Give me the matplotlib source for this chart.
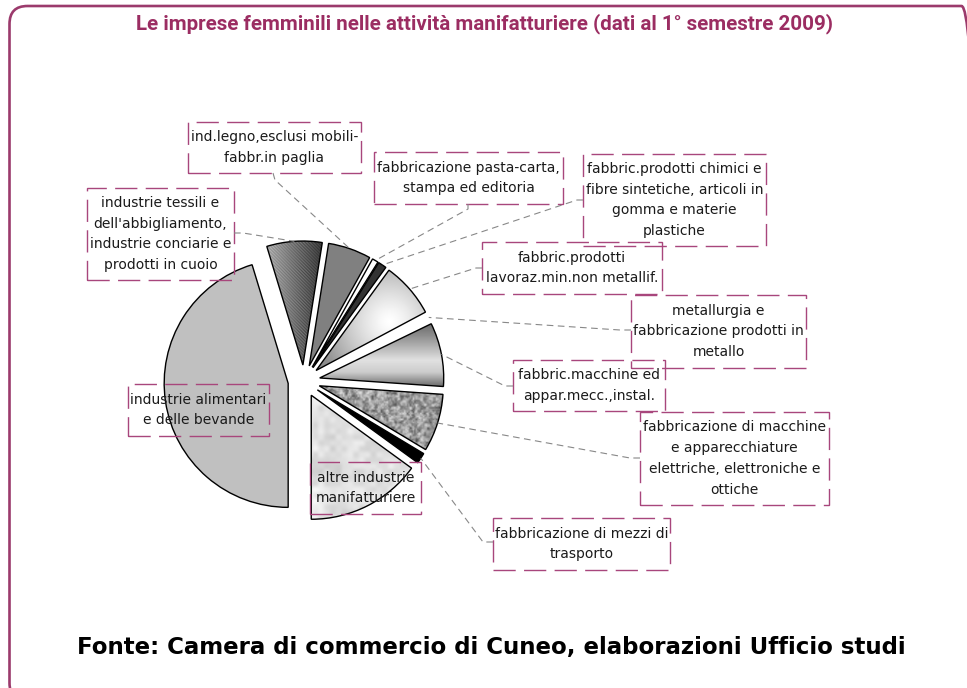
import numpy as np
import matplotlib
matplotlib.use("Agg")
import matplotlib.pyplot as plt
from matplotlib.patches import Rectangle, FancyBboxPatch

# settori manifatturieri (ordine orario partendo dal basso)
categorie = [
    "industrie alimentari\ne delle bevande",
    "industrie tessili e\ndell'abbigliamento,\nindustrie conciarie e\nprodotti in cuoio",
    "ind.legno,esclusi mobili-\nfabbr.in paglia",
    "fabbricazione pasta-carta,\nstampa ed editoria",
    "fabbric.prodotti chimici e\nfibre sintetiche, articoli in\ngomma e materie\nplastiche",
    "fabbric.prodotti\nlavoraz.min.non metallif.",
    "metallurgia e\nfabbricazione prodotti in\nmetallo",
    "fabbric.macchine ed\nappar.mecc.,instal.",
    "fabbricazione di macchine\ne apparecchiature\nelettriche, elettroniche e\nottiche",
    "fabbricazione di mezzi di\ntrasporto",
    "altre industrie\nmanifatturiere",
]
# quote % stimate dal grafico
quote = [45.3, 7.2, 5.6, 0.8, 1.1, 7.2, 0.6, 8.3, 7.5, 1.4, 15.0]

titolo = "Le imprese femminili nelle attività manifatturiere (dati al 1° semestre 2009)"
fonte = "Fonte: Camera di commercio di Cuneo, elaborazioni Ufficio studi"

W, H = 967, 688
VIOLA = "#9b2d62"
BORDO = "#a8467c"

fig = plt.figure(figsize=(W / 100, H / 100), dpi=100)
ax = fig.add_axes([0, 0, 1, 1])

# torta esplosa, coordinate in pixel (y verso l'alto)
wedges, _ = ax.pie(quote, radius=124, center=(304, H - 381), startangle=-90,
                   counterclock=False, explode=[16] * len(quote),
                   wedgeprops=dict(edgecolor="black", linewidth=1))


def rumore(n, cella, seme):
    # value noise deterministico per le texture
    m = int(n / cella) + 3
    jj, ii = np.meshgrid(np.arange(m), np.arange(m))
    h = np.sin(ii * 12.9898 + jj * 78.233 + seme) * 43758.5453
    h = h - np.floor(h)
    t = np.arange(n) / cella
    i0 = np.floor(t).astype(int)
    f = t - i0
    f = f * f * (3 - 2 * f)
    r0, c0 = i0[:, None], i0[None, :]
    fy, fx = f[:, None], f[None, :]
    return (h[r0, c0] * (1 - fx) * (1 - fy) + h[r0, c0 + 1] * fx * (1 - fy)
            + h[r0 + 1, c0] * (1 - fx) * fy + h[r0 + 1, c0 + 1] * fx * fy)


def riempi(w, funz, n=256):
    x0, y0 = w.center
    r = w.r
    X, Y = np.meshgrid(np.linspace(x0 - r, x0 + r, n), np.linspace(y0 - r, y0 + r, n))
    S = H - Y
    v = np.clip(funz(X, S, n), 0, 1)
    im = ax.imshow(v, extent=(x0 - r, x0 + r, y0 - r, y0 + r), origin="lower",
                   cmap="gray", vmin=0, vmax=1, interpolation="bilinear", zorder=1)
    im.set_clip_path(w)
    w.set_facecolor("none")
    w.set_zorder(2)


tinte = ["#c0c0c0", None, "#808080", "white", "#333333", None, "none", None, None, "black", None]
for w, c in zip(wedges, tinte):
    if c is not None:
        w.set_facecolor(c)
wedges[6].set_edgecolor("none")

riempi(wedges[1], lambda X, S, n: 0.66 - 0.42 * np.clip((X - 268) / 52, 0, 1)
       + 0.09 * np.sin(2 * np.pi * (X - S) / 3.2))
riempi(wedges[5], lambda X, S, n: 1 - 0.45 * np.clip(np.hypot(X - 390, S - 322) / 75, 0, 1) ** 1.3)
riempi(wedges[7], lambda X, S, n: np.interp(S, [315, 335, 360, 372, 388], [0.33, 0.55, 0.88, 0.8, 0.38]))
riempi(wedges[8], lambda X, S, n: 0.6 + 0.4 * (rumore(n, 3, 1.0) - 0.5) + 0.25 * (rumore(n, 1.5, 7.0) - 0.5))
riempi(wedges[10], lambda X, S, n: 0.88 + 0.14 * (rumore(n, 25, 3.0) - 0.5) + 0.1 * (rumore(n, 6, 5.0) - 0.5))

# riquadri etichette (x0, y0, x1, y1 in pixel dall'alto)
riquadri = [(128, 384, 269, 436), (87, 188, 234, 280), (188, 122, 361, 173),
            (374, 152, 563, 204), (583, 154, 766, 246), (482, 242, 662, 294),
            (631, 295, 806, 368), (513, 360, 665, 411), (640, 412, 829, 505),
            (493, 518, 670, 570), (310, 462, 421, 514)]
aggancio = [None, [(234, 233), (243, 233)], [(273, 173), (275, 180)],
            [(468, 204), (468, 209)], [(583, 200), (577, 200)], [(482, 268), (476, 268)],
            [(631, 330), (620, 330)], [(513, 386), (505, 386)], [(640, 458), (630, 458)],
            [(493, 542), (483, 542)], None]

for w, lab, (x0, y0, x1, y1), ag in zip(wedges, categorie, riquadri, aggancio):
    ax.add_patch(Rectangle((x0, H - y1), x1 - x0, y1 - y0, fill=False, edgecolor=BORDO,
                           linewidth=1, linestyle=(0, (16, 6)), zorder=3))
    ax.text((x0 + x1) / 2, H - (y0 + y1) / 2, lab, ha="center", va="center",
            multialignment="center", fontsize=10, linespacing=1.62, color="#1a1a1a", zorder=4)
    if ag is not None:
        th = np.deg2rad((w.theta1 + w.theta2) / 2)
        px = w.center[0] + w.r * np.cos(th)
        py = w.center[1] + w.r * np.sin(th)
        xs = [p[0] for p in ag] + [px]
        ys = [H - p[1] for p in ag] + [py]
        ax.plot(xs, ys, color="#888888", linewidth=0.8, linestyle=(0, (6, 4)), zorder=3)

# cornice arrotondata (esce dal bordo destro e inferiore)
ax.add_patch(FancyBboxPatch((9.5, H - 701), 970, 695, boxstyle="round,pad=0,rounding_size=18",
                            fill=False, edgecolor="#9b3a6c", linewidth=1.9, zorder=5,
                            clip_on=False))

t1 = ax.text(484, H - 29, titolo, ha="center", va="baseline", fontsize=12,
             fontweight="bold", color=VIOLA, family=["Roboto", "DejaVu Sans"])
t2 = ax.text(491, H - 654, fonte, ha="center", va="baseline", fontsize=14,
             fontweight="bold", color="black")

ax.set_xlim(0, W)
ax.set_ylim(0, H)
ax.set_aspect("auto")
ax.axis("off")

# adatta la larghezza dei testi a quella del riferimento
fig.canvas.draw()
for t, larg in [(t1, 695), (t2, 834)]:
    bb = t.get_window_extent()
    t.set_fontsize(t.get_fontsize() * larg / bb.width)

fig.savefig("out.png", dpi=100)
